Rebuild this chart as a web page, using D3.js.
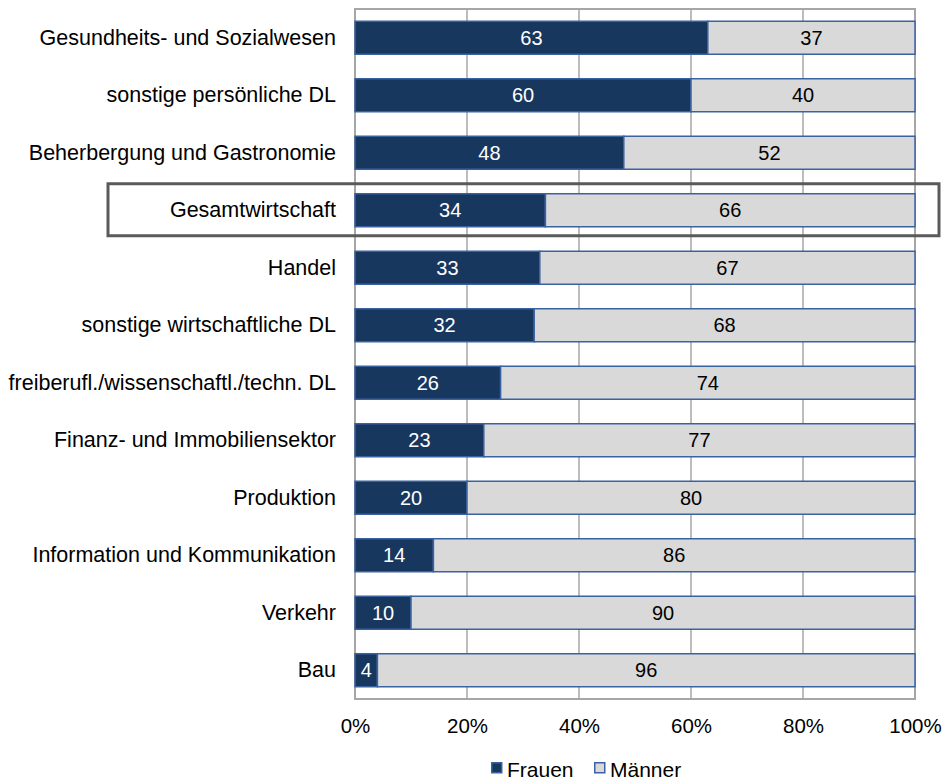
<!DOCTYPE html>
<html>
<head>
<meta charset="utf-8">
<script src="https://cdn.jsdelivr.net/npm/d3@7"></script>
<style>
  html, body { margin: 0; padding: 0; background: #fff; }
  svg { display: block; font-family: Arial, "Liberation Sans", sans-serif; }
</style>
</head>
<body>
<svg id="chart" width="946" height="782"></svg>
<script>
// Anteil von Frauen und Männern nach Wirtschaftszweig (in %)
const categories = [
  "Gesundheits- und Sozialwesen",
  "sonstige persönliche DL",
  "Beherbergung und Gastronomie",
  "Gesamtwirtschaft",
  "Handel",
  "sonstige wirtschaftliche DL",
  "freiberufl./wissenschaftl./techn. DL",
  "Finanz- und Immobiliensektor",
  "Produktion",
  "Information und Kommunikation",
  "Verkehr",
  "Bau"
];
const frauen = [63, 60, 48, 34, 33, 32, 26, 23, 20, 14, 10, 4];
const maenner = [37, 40, 52, 66, 67, 68, 74, 77, 80, 86, 90, 96];
const seriesNames = ["Frauen", "Männer"];
const tickValues = [0, 20, 40, 60, 80, 100];
const highlighted = "Gesamtwirtschaft";

const colors = { Frauen: "#17375e", "Männer": "#d9d9d9" };
const barStroke = "#3b62a0";

const svg = d3.select("#chart");
const plot = { left: 355, right: 915, top: 9, bottom: 699 };

const x = d3.scaleLinear().domain([0, 100]).range([plot.left, plot.right]);
const y = d3.scaleBand().domain(categories).range([plot.top, plot.bottom])
  .paddingInner(0.426).paddingOuter(0.213);

// Vertical gridlines
svg.append("g")
  .selectAll("line")
  .data(tickValues.slice(1, -1))
  .join("line")
  .attr("x1", d => x(d)).attr("x2", d => x(d))
  .attr("y1", plot.top).attr("y2", plot.bottom)
  .attr("stroke", "#a6a6a6").attr("stroke-width", 1.5);

// Plot frame
svg.append("rect")
  .attr("x", plot.left).attr("y", plot.top)
  .attr("width", plot.right - plot.left).attr("height", plot.bottom - plot.top)
  .attr("fill", "none").attr("stroke", "#a6a6a6").attr("stroke-width", 2);

// Stacked segments
const rows = categories.map((c, i) => ({ cat: c, Frauen: frauen[i], "Männer": maenner[i] }));
const stacked = d3.stack().keys(seriesNames)(rows);

const layers = svg.append("g").selectAll("g")
  .data(stacked)
  .join("g");

layers.selectAll("rect")
  .data(layer => layer.map(d => ({ key: layer.key, d })))
  .join("rect")
  .attr("x", o => x(o.d[0]))
  .attr("y", o => y(o.d.data.cat))
  .attr("width", o => x(o.d[1]) - x(o.d[0]))
  .attr("height", y.bandwidth())
  .attr("fill", o => colors[o.key])
  .attr("stroke", barStroke)
  .attr("stroke-width", 1.5);

// Value labels centred in each segment
layers.selectAll("text")
  .data(layer => layer.map(d => ({ key: layer.key, d })))
  .join("text")
  .attr("x", o => (x(o.d[0]) + x(o.d[1])) / 2)
  .attr("y", o => y(o.d.data.cat) + y.bandwidth() / 2)
  .attr("dy", "0.36em")
  .attr("text-anchor", "middle")
  .attr("font-size", 20)
  .attr("fill", o => o.key === "Frauen" ? "#ffffff" : "#000000")
  .text(o => o.d[1] - o.d[0]);

// Category axis (labels only)
const yAxis = svg.append("g")
  .attr("transform", `translate(${plot.left},0)`)
  .call(d3.axisLeft(y).tickSize(0).tickPadding(19));
yAxis.select(".domain").remove();
yAxis.selectAll("text")
  .attr("font-size", 21.5)
  .attr("font-family", "Arial, 'Liberation Sans', sans-serif")
  .attr("fill", "#000");

// Percentage axis
const xAxis = svg.append("g")
  .attr("transform", `translate(0,${plot.bottom})`)
  .call(d3.axisBottom(x).tickValues(tickValues).tickSize(0).tickPadding(19)
    .tickFormat(d => d + "%"));
xAxis.select(".domain").remove();
xAxis.selectAll("text")
  .attr("font-size", 20.5)
  .attr("font-family", "Arial, 'Liberation Sans', sans-serif")
  .attr("fill", "#000");

// Highlight frame around the total economy row
const hy = y(highlighted);
svg.append("rect")
  .attr("x", 108).attr("y", hy - 10)
  .attr("width", 939 - 108).attr("height", y.bandwidth() + 19)
  .attr("fill", "none").attr("stroke", "#5a5a5a").attr("stroke-width", 3);

// Legend
const legendItems = [
  { name: "Frauen", x: 491 },
  { name: "Männer", x: 594 }
];
const legend = svg.append("g").selectAll("g")
  .data(legendItems)
  .join("g")
  .attr("transform", d => `translate(${d.x},762)`);
legend.append("rect")
  .attr("x", 0.75).attr("y", 0.75).attr("width", 10).attr("height", 10)
  .attr("fill", d => colors[d.name])
  .attr("stroke", barStroke).attr("stroke-width", 1.5);
legend.append("text")
  .attr("x", 16).attr("y", 15)
  .attr("font-size", 21)
  .attr("fill", "#000")
  .text(d => d.name);
</script>
</body>
</html>
